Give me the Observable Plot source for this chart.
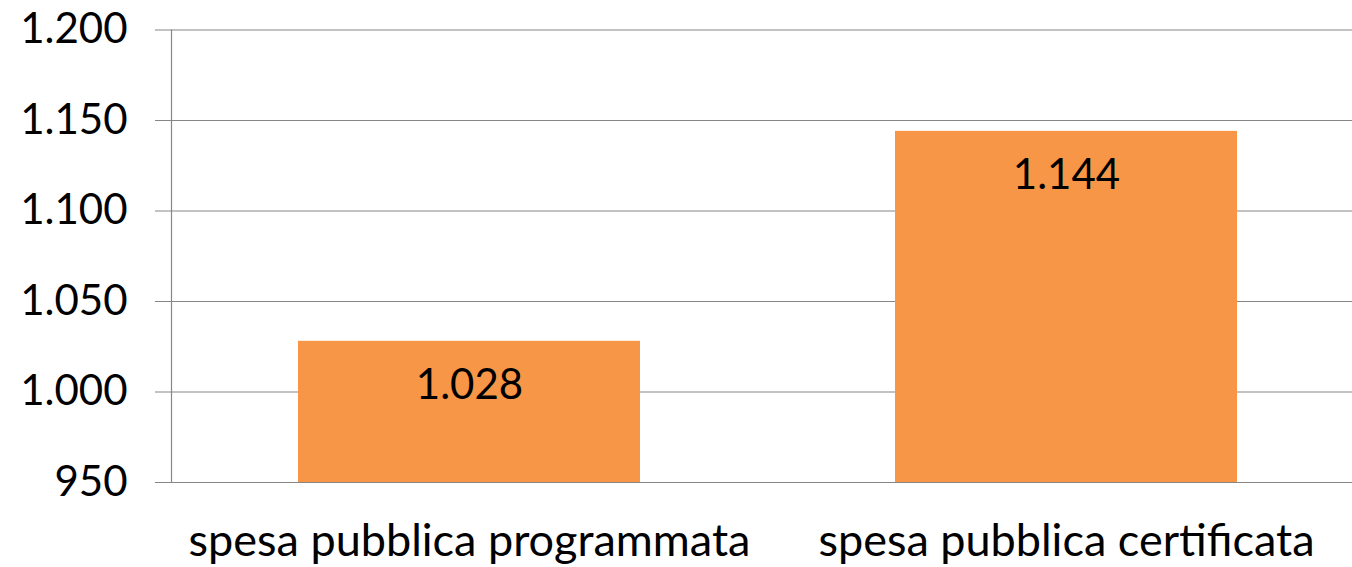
<!DOCTYPE html>
<html>
<head>
<meta charset="utf-8">
<script src="https://cdn.jsdelivr.net/npm/d3@7"></script>
<script src="https://cdn.jsdelivr.net/npm/@observablehq/plot@0.6"></script>
<style>
  html, body { margin: 0; padding: 0; background: #fff; overflow: hidden; }
  #chart { width: 1352px; height: 567px; overflow: hidden; }
  #chart svg { max-width: none !important; }
</style>
</head>
<body>
<div id="chart"></div>
<script>
const categories = ["spesa pubblica programmata", "spesa pubblica certificata"];
const values = [1028, 1144];
const yTicks = [950, 1000, 1050, 1100, 1150, 1200];

const data = categories.map((c, i) => ({ category: c, value: values[i] }));
const it = d3.formatLocale({ decimal: ",", thousands: ".", grouping: [3], currency: ["€", ""] });
const fmt = it.format(",d");

const chart = Plot.plot({
  width: 1365,
  height: 567,
  marginLeft: 171,
  marginRight: 0,
  marginTop: 29.5,
  marginBottom: 85,
  style: { fontFamily: "Lato, sans-serif", fontSize: "42px", color: "#000", background: "#fff", maxWidth: "none" },
  x: { domain: categories, paddingInner: 0.427, paddingOuter: 0.2135, label: null },
  y: { domain: [950, 1200], label: null },
  marks: [
    Plot.gridY(yTicks, { stroke: "#868686", strokeOpacity: 1, strokeWidth: 1.2 }),
    Plot.barY(data, { x: "category", y1: 950, y2: "value", fill: "#F79646" }),
    Plot.text(data, { x: "category", y: "value", text: d => fmt(d.value), dy: 44, fill: "#000", fontSize: 42 }),
    Plot.frame({ anchor: "left", stroke: "#868686", strokeWidth: 1.2 }),
    Plot.axisY(yTicks, { tickSize: 16, tickPadding: 28, tickFormat: fmt, stroke: "#868686", fill: "#000", fontSize: 42, label: null }),
    Plot.axisX({ tickSize: 0, tickPadding: 42, fill: "#000", fontSize: 45, label: null })
  ]
});
document.getElementById("chart").appendChild(chart);
</script>
</body>
</html>
